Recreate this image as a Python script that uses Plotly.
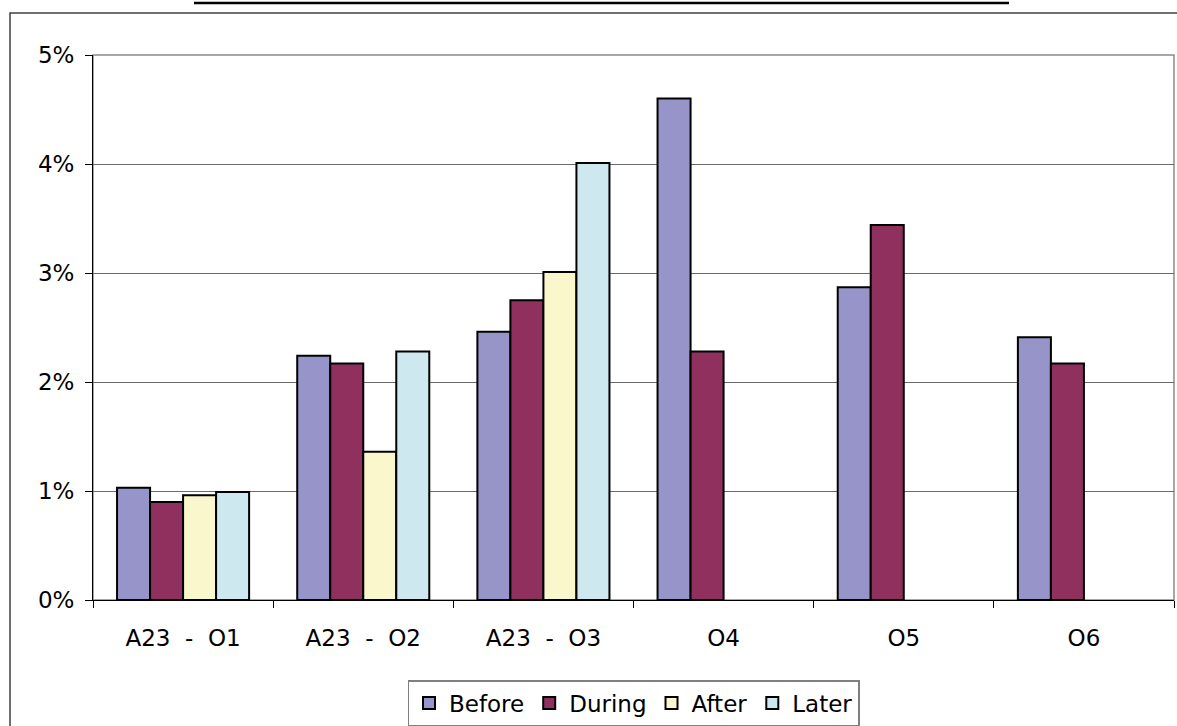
import plotly.graph_objects as go

# Categories and the share recorded for each period
categories = ["A23\u00a0\u00a0-\u00a0\u00a0O1", "A23\u00a0\u00a0-\u00a0\u00a0O2", "A23\u00a0\u00a0-\u00a0\u00a0O3", "O4", "O5", "O6"]
before = [0.0103, 0.0224, 0.0246, 0.0460, 0.0287, 0.0241]
during = [0.0090, 0.0217, 0.0275, 0.0228, 0.0344, 0.0217]
after = [0.0096, 0.0136, 0.0301, None, None, None]
later = [0.0099, 0.0228, 0.0401, None, None, None]

series_names = ["Before", "During", "After", "Later"]
series_values = [before, during, after, later]
series_colors = ["#9694c8", "#8f305e", "#faf7cd", "#cde9ef"]

W, H = 1177, 726
L, R, T, B = 93, 1174, 55, 600  # plot area in pixels


def px_x(p):
    return (p - L) / (R - L)


def px_y(p):
    return (B - p) / (B - T)


fig = go.Figure()
for name, vals, col in zip(series_names, series_values, series_colors):
    fig.add_trace(go.Bar(
        name=name, x=categories, y=vals,
        marker=dict(color=col, line=dict(color="#000000", width=2)),
    ))

font = dict(family="DejaVu Sans, Verdana, sans-serif", size=23, color="#000000")

fig.update_layout(
    width=W, height=H,
    margin=dict(l=L, r=W - R, t=T, b=H - B, pad=0, autoexpand=False),
    paper_bgcolor="white", plot_bgcolor="white",
    barmode="group", bargap=0.267, bargroupgap=0,
    font=font,
    showlegend=True,
    legend=dict(
        orientation="h", x=0.5, xanchor="center",
        y=px_y(680), yanchor="top",
        bordercolor="#808080", borderwidth=1.5,
        font=dict(family="DejaVu Sans, Verdana, sans-serif", size=23, color="#000000"),
        itemwidth=30, traceorder="normal",
    ),
    xaxis=dict(
        showline=True, linecolor="#000000", linewidth=1,
        ticks="outside", ticklen=7, tickcolor="#000000", tickwidth=1,
        tickson="boundaries", showgrid=False, zeroline=False,
        tickfont=font, ticklabelstandoff=17,
    ),
    yaxis=dict(
        range=[0, 0.05], dtick=0.01, tickformat=".0%",
        showline=True, linecolor="#000000", linewidth=1,
        ticks="outside", ticklen=7, tickcolor="#000000", tickwidth=1,
        showgrid=True, gridcolor="#6a6a6a", gridwidth=1,
        zeroline=False, tickfont=font, ticklabelstandoff=6,
    ),
    shapes=[
        # plot area frame (top and right edges)
        dict(type="rect", xref="paper", yref="paper", x0=0, x1=1, y0=0, y1=1,
             line=dict(color="#8a8a8a", width=1.5), layer="below"),
        # outer chart frame
        dict(type="rect", xref="paper", yref="paper",
             x0=px_x(10), x1=px_x(1190), y0=px_y(740), y1=px_y(13),
             line=dict(color="#404040", width=1.5), layer="below"),
        # heading rule
        dict(type="line", xref="paper", yref="paper",
             x0=px_x(194), x1=px_x(1009), y0=px_y(3), y1=px_y(3),
             line=dict(color="#000000", width=2.5)),
    ],
)

fig.write_html("out.html")
